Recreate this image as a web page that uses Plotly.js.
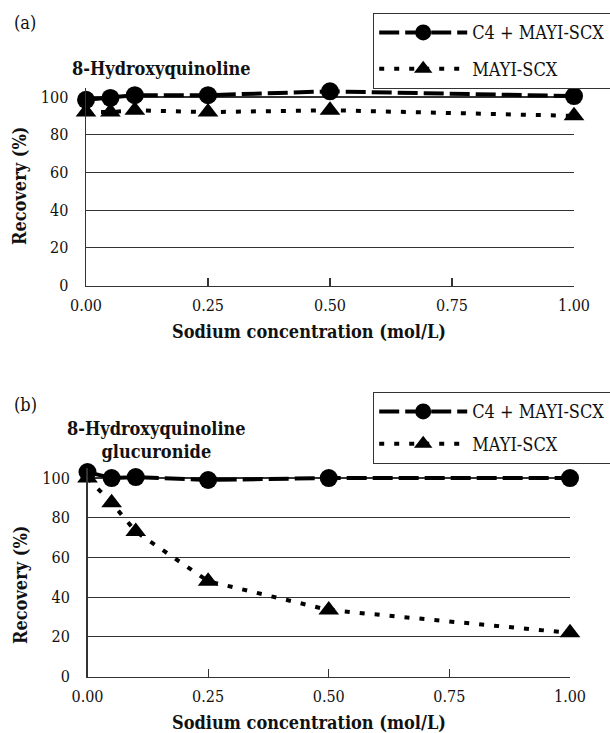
<!DOCTYPE html>
<html>
<head>
<meta charset="utf-8">
<script src="https://cdn.plot.ly/plotly-3.0.1.min.js"></script>
<style>html,body{margin:0;padding:0;background:#fff;}#chart{width:610px;height:733px;}</style>
</head>
<body>
<div id="chart"></div>
<script>
// ---- data ----
const sodium = [0, 0.05, 0.1, 0.25, 0.5, 1.0];
const xTickVals = [0, 0.25, 0.5, 0.75, 1.0];
const seriesNames = ["C4 + MAYI-SCX", "MAYI-SCX"];
const recoveryA_C4 = [98.5, 99.5, 101, 101, 103, 100.5];
const recoveryA_MAYI = [92, 92, 93, 92, 93, 90];
const recoveryB_C4 = [103, 100, 100.5, 99, 100, 100];
const recoveryB_MAYI = [100, 87.5, 73, 48, 33.5, 22];
const panelTitles = ["8-Hydroxyquinoline", "8-Hydroxyquinoline<br>glucuronide"];
const panelLabels = ["(a)", "(b)"];
const xTitle = "Sodium concentration (mol/L)";
const yTitle = "Recovery (%)";

const W = 610, H = 733;
const FONT = "DejaVu Serif Condensed, DejaVu Serif, serif";
const px = v => v / W;
const py = v => 1 - v / H;

const circleLine = {color: '#000', width: 4, dash: '20px,6px'};
const triLine = {color: '#000', width: 4, dash: '5px,10px'};

function traces(xa, ya, c4, mayi, leg) {
  return [
    {x: sodium, y: c4, xaxis: xa, yaxis: ya, name: seriesNames[0], type: 'scatter', mode: 'lines+markers',
     line: circleLine, marker: {symbol: 'circle', size: 18, color: '#000'}, cliponaxis: false,
     legend: leg, legendgroup: leg + 'g1'},
    {x: sodium, y: mayi, xaxis: xa, yaxis: ya, name: seriesNames[1], type: 'scatter', mode: 'lines+markers',
     line: triLine, marker: {symbol: 'triangle-up', size: 18, color: '#000'}, cliponaxis: false,
     legend: leg, legendgroup: leg + 'g2'}
  ];
}

const data = [
  ...traces('x', 'y', recoveryA_C4, recoveryA_MAYI, 'legend'),
  ...traces('x2', 'y2', recoveryB_C4, recoveryB_MAYI, 'legend2')
];

function xaxis(domain, anchor) {
  return {domain: domain, anchor: anchor, range: [0, 1], tickvals: xTickVals, tickformat: '.2f',
    ticks: 'inside', ticklen: 8, tickcolor: '#333', tickwidth: 1.2,
    showline: true, linecolor: '#333', linewidth: 1.5, showgrid: false, zeroline: false,
    tickfont: {family: FONT, size: 16, color: '#111'}, ticklabelstandoff: 5, fixedrange: true};
}
function yaxis(domain, anchor) {
  return {domain: domain, anchor: anchor, range: [0, 105], tickvals: [0, 20, 40, 60, 80, 100],
    ticks: '', showline: true, linecolor: '#333', linewidth: 1.5,
    showgrid: true, gridcolor: '#333', gridwidth: 1.2, zeroline: false,
    tickfont: {family: FONT, size: 16, color: '#111'}, ticklabelstandoff: 13, fixedrange: true};
}

function legend(topPx, gap) {
  return {x: px(373), y: py(topPx), xanchor: 'left', yanchor: 'top', xref: 'paper', yref: 'paper',
    bordercolor: '#333', borderwidth: 1.2, bgcolor: '#fff', itemwidth: 88,
    font: {family: FONT, size: 18, color: '#111'}, traceorder: 'grouped', tracegroupgap: gap,
    itemclick: false, itemdoubleclick: false};
}

function ann(text, x, y, opts) {
  return Object.assign({text: text, x: px(x), y: py(y), xref: 'paper', yref: 'paper', showarrow: false,
    xanchor: 'center', yanchor: 'middle', font: {family: FONT, size: 18, color: '#111'}}, opts || {});
}

const layout = {
  width: W, height: H,
  margin: {l: 0, r: 0, t: 0, b: 0, autoexpand: false},
  paper_bgcolor: '#fff', plot_bgcolor: '#fff',
  font: {family: FONT},
  showlegend: true,
  xaxis: xaxis([px(86), px(574)], 'y'),
  yaxis: yaxis([py(285.5), py(87.6)], 'x'),
  xaxis2: xaxis([px(87.5), px(570)], 'y2'),
  yaxis2: yaxis([py(676.5), py(468.1)], 'x2'),
  legend: legend(13, 10),
  legend2: legend(392, 6),
  annotations: [
    ann(panelLabels[0], 12, 22, {xanchor: 'left', font: {family: FONT, size: 18, color: '#111'}}),
    ann('<b>' + panelTitles[0] + '</b>', 70, 68, {xanchor: 'left'}),
    ann('<b>' + yTitle + '</b>', 20, 186, {textangle: -90}),
    ann('<b>' + xTitle + '</b>', 309, 332),
    ann(panelLabels[1], 12, 404, {xanchor: 'left', font: {family: FONT, size: 18, color: '#111'}}),
    ann('<b>' + panelTitles[1] + '</b>', 156, 440, {align: 'center'}),
    ann('<b>' + yTitle + '</b>', 20, 585, {textangle: -90}),
    ann('<b>' + xTitle + '</b>', 309, 722)
  ]
};

Plotly.newPlot('chart', data, layout, {displayModeBar: false, staticPlot: true});
</script>
</body>
</html>
